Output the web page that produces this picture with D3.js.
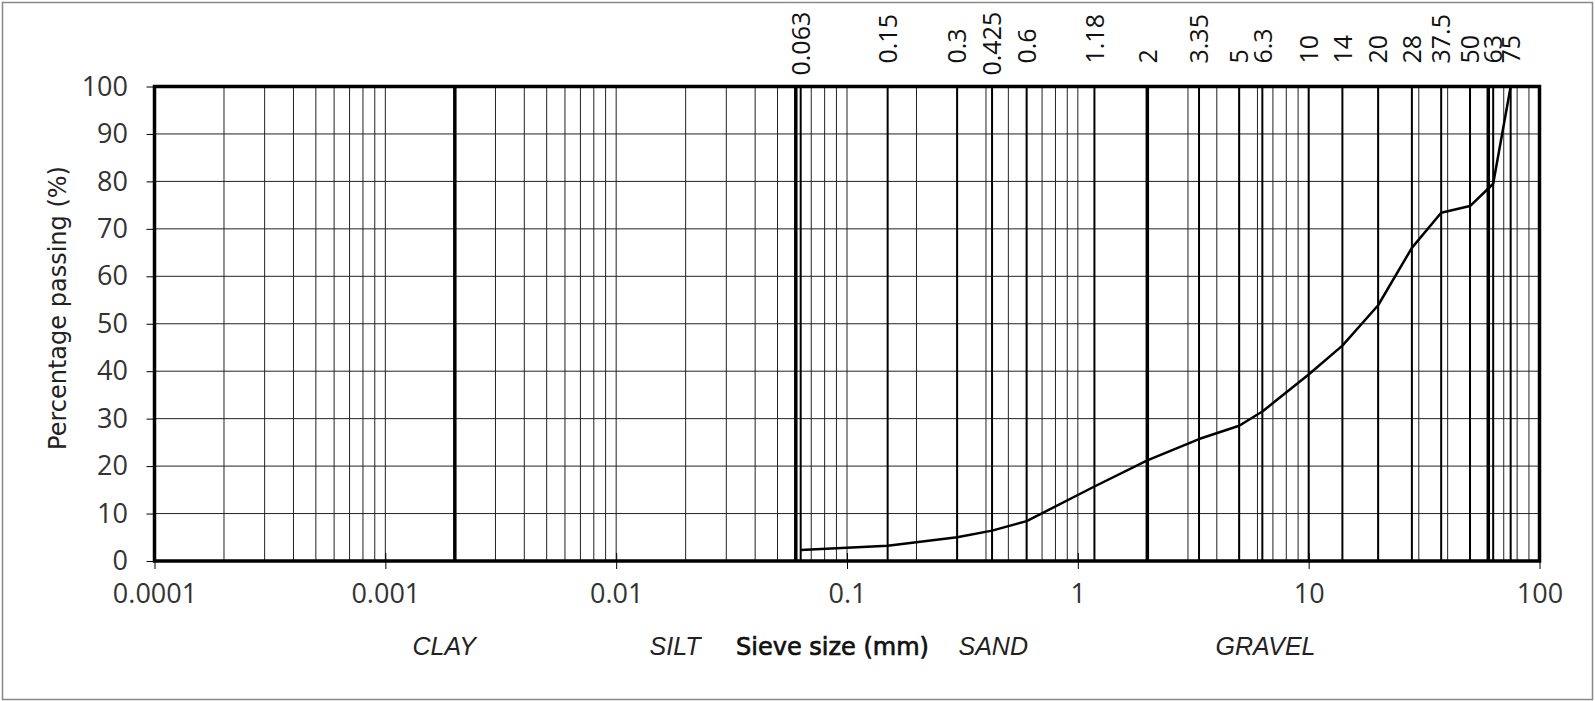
<!DOCTYPE html>
<html>
<head>
<meta charset="utf-8">
<script src="https://cdn.jsdelivr.net/npm/d3@7"></script>
<style>
  html, body { margin: 0; padding: 0; background: #fff; }
  svg { display: block; }
</style>
</head>
<body>
<div id="chart"></div>
<script>
// sieve sizes (mm) and the percentage of the sample passing each one
var sieveSizes = [0.063, 0.15, 0.3, 0.425, 0.6, 1.18, 2, 3.35, 5, 6.3, 10, 14, 20, 28, 37.5, 50, 63, 75];
var percentPassing = [2.3, 3.2, 5.0, 6.4, 8.4, 15.7, 21.2, 25.7, 28.5, 31.5, 39.3, 45.4, 53.9, 66.0, 73.4, 74.8, 79.5, 100];

// clay / silt / sand / gravel / cobble boundaries
var boundaries = [0.002, 0.06, 2, 60];

var decades = [0.0001, 0.001, 0.01, 0.1, 1, 10, 100];
var yTicks = [0, 10, 20, 30, 40, 50, 60, 70, 80, 90, 100];

var soilClasses = ["CLAY", "SILT", "SAND", "GRAVEL"];
var soilClassAt = [0.0018, 0.018, 0.43, 6.5];

(function() {
	var width = 1595, height = 701;
	var left = 154.5, right = 1539.5, top = 86.5, bottom = 561;

	var svg = d3.select("#chart")
		.append("svg")
		.attr("width", width)
		.attr("height", height)

	// thin page frame
	svg.append("rect")
		.attr("x", 2.5).attr("y", 2.5)
		.attr("width", width - 5).attr("height", height - 4)
		.attr("fill", "none")
		.attr("stroke", "#888")
		.attr("stroke-width", 1.5)

	var x = d3.scaleLog().domain([0.0001, 100]).range([left, right])
	var y = d3.scaleLinear().domain([0, 100]).range([bottom, top])

	// 1..9 lines inside every decade
	var minor = []
	decades.slice(0, -1).forEach(function(d) {
		d3.range(1, 10).forEach(function(m) { minor.push(d * m) })
	})

	var grid = svg.append("g")

	grid.selectAll(".minor")
		.data(minor)
		.enter().append("line")
		.attr("class", "minor")
		.attr("x1", function(d) { return x(d) })
		.attr("x2", function(d) { return x(d) })
		.attr("y1", top).attr("y2", bottom)
		.attr("stroke", "#222")
		.attr("stroke-width", 1)

	grid.selectAll(".hgrid")
		.data(yTicks)
		.enter().append("line")
		.attr("class", "hgrid")
		.attr("x1", left).attr("x2", right)
		.attr("y1", function(d) { return y(d) })
		.attr("y2", function(d) { return y(d) })
		.attr("stroke", "#222")
		.attr("stroke-width", 1)

	grid.selectAll(".sieve")
		.data(sieveSizes)
		.enter().append("line")
		.attr("class", "sieve")
		.attr("x1", function(d) { return x(d) })
		.attr("x2", function(d) { return x(d) })
		.attr("y1", top).attr("y2", bottom)
		.attr("stroke", "#000")
		.attr("stroke-width", 2)

	grid.selectAll(".bound")
		.data(boundaries)
		.enter().append("line")
		.attr("class", "bound")
		.attr("x1", function(d) { return x(d) })
		.attr("x2", function(d) { return x(d) })
		.attr("y1", top).attr("y2", bottom)
		.attr("stroke", "#000")
		.attr("stroke-width", 3.5)

	// grading curve
	var points = sieveSizes.map(function(s, i) { return [s, percentPassing[i]] })
	var line = d3.line()
		.x(function(d) { return x(d[0]) })
		.y(function(d) { return y(d[1]) })

	svg.append("path")
		.datum(points)
		.attr("d", line)
		.attr("fill", "none")
		.attr("stroke", "#000")
		.attr("stroke-width", 2.5)
		.attr("stroke-linejoin", "round")

	svg.append("rect")
		.attr("x", left).attr("y", top)
		.attr("width", right - left).attr("height", bottom - top)
		.attr("fill", "none")
		.attr("stroke", "#000")
		.attr("stroke-width", 3.5)

	// left axis
	var yAxis = svg.append("g")
		.attr("transform", "translate(" + left + ",0)")
		.call(d3.axisLeft(y).tickValues(yTicks).tickSize(8).tickPadding(18.5))
	yAxis.select(".domain").remove()
	yAxis.selectAll("text")
		.attr("font-family", "'Open Sans', sans-serif")
		.attr("font-size", 27)
		.attr("fill", "#333")

	// bottom axis, ticks cross the frame
	var xAxis = svg.append("g")
		.attr("transform", "translate(0," + bottom + ")")
		.call(d3.axisBottom(x).tickValues(decades).tickFormat(d3.format("~g")).tickSize(8).tickPadding(15))
	xAxis.select(".domain").remove()
	xAxis.selectAll(".tick line").attr("y1", -8)
	xAxis.selectAll("text")
		.attr("font-family", "'Open Sans', sans-serif")
		.attr("font-size", 27)
		.attr("fill", "#333")

	// sieve labels on top, a couple sit a bit lower
	var lowLabels = [0.063, 0.425]
	var topAxis = svg.append("g")
		.attr("transform", "translate(0," + top + ")")
		.call(d3.axisTop(x).tickValues(sieveSizes).tickFormat(function(d) { return d }).tickSize(0))
	topAxis.select(".domain").remove()
	topAxis.selectAll("text")
		.attr("transform", "rotate(-90)")
		.attr("x", function(d) { return lowLabels.indexOf(d) >= 0 ? 11 : 23 })
		.attr("y", 0)
		.attr("dy", "0.35em")
		.attr("text-anchor", "start")
		.attr("font-family", "'Open Sans', sans-serif")
		.attr("font-size", 25)
		.attr("fill", "#111")

	svg.append("text")
		.attr("transform", "translate(65.5,308) rotate(-90)")
		.attr("text-anchor", "middle")
		.attr("font-family", "'DejaVu Sans', sans-serif")
		.attr("font-size", 24)
		.attr("fill", "#222")
		.text("Percentage passing (%)")

	// this title is printed a touch heavier than the rest
	svg.append("text")
		.attr("x", 832.5).attr("y", 655)
		.attr("text-anchor", "middle")
		.attr("font-family", "'DejaVu Sans', sans-serif")
		.attr("font-size", 24)
		.attr("fill", "#111")
		.attr("stroke", "#111")
		.attr("stroke-width", 0.7)
		.text("Sieve size (mm)")

	svg.selectAll(".soil")
		.data(soilClasses)
		.enter().append("text")
		.attr("class", "soil")
		.attr("x", function(d, i) { return x(soilClassAt[i]) })
		.attr("y", 655)
		.attr("text-anchor", "middle")
		.attr("font-family", "'Liberation Sans', sans-serif")
		.attr("font-style", "italic")
		.attr("font-size", 25)
		.attr("fill", "#222")
		.text(function(d) { return d })
})();
</script>
</body>
</html>
